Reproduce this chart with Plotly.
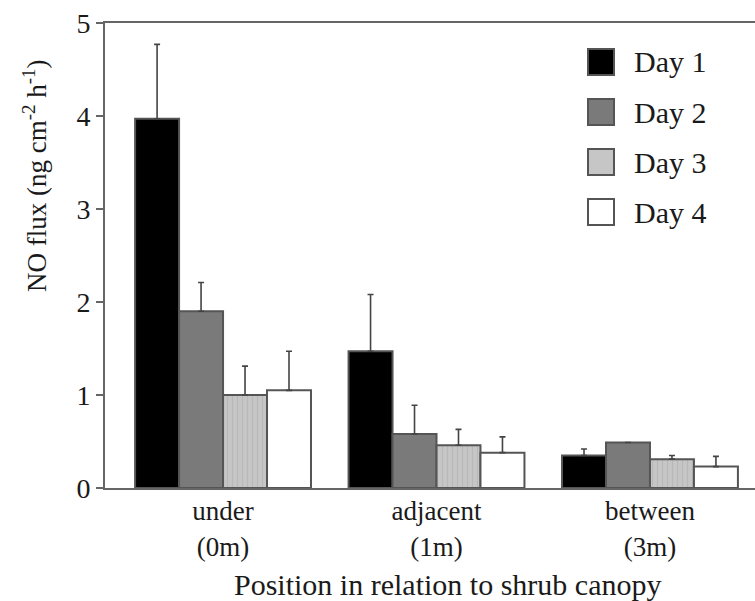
import plotly.graph_objects as go

# ---- data ----
positions = ["under", "adjacent", "between"]
distances = ["(0m)", "(1m)", "(3m)"]
series_names = ["Day 1", "Day 2", "Day 3", "Day 4"]
day1 = [3.97, 1.47, 0.35]
day2 = [1.90, 0.58, 0.49]
day3 = [1.00, 0.46, 0.31]
day4 = [1.05, 0.38, 0.23]
err1 = [0.80, 0.61, 0.07]
err2 = [0.31, 0.31, 0.0]
err3 = [0.31, 0.17, 0.04]
err4 = [0.42, 0.17, 0.11]
y_ticks = [0, 1, 2, 3, 4, 5]

values = [day1, day2, day3, day4]
errors = [err1, err2, err3, err4]
fills = ["#000000", "#7a7a7a", "#c6c6c6", "#ffffff"]
patterns = [None, None, dict(shape="|", fgcolor="#a9a9a9", bgcolor="#c6c6c6", size=5, solidity=0.25), None]

FONT = "Liberation Serif, Times New Roman, serif"
TXT = "#1a1a1a"
EDGE = "#555555"

cats = [f"{p}<br>{d}" for p, d in zip(positions, distances)]

fig = go.Figure()
for name, v, e, c, pat in zip(series_names, values, errors, fills, patterns):
    marker = dict(color=c, line=dict(color=EDGE, width=2))
    if pat is not None:
        marker["pattern"] = pat
    fig.add_trace(go.Bar(
        x=cats, y=v, name=name, marker=marker, showlegend=False,
        error_y=dict(type="data", array=e, arrayminus=[0] * len(e), symmetric=False,
                     color="#444444", thickness=1.6, width=3),
    ))

# legend drawn as layout items (paper coordinates)
L, R, T, B = 105, 755, 23, 488
W, H = R - L, B - T
def px(xp): return (xp - L) / W
def py(yp): return (B - yp) / H

for i, (name, c) in enumerate(zip(series_names, fills)):
    cy = 62 + 50 * i
    fig.add_shape(type="rect", xref="paper", yref="paper",
                  x0=px(588), x1=px(614), y0=py(cy + 13), y1=py(cy - 13),
                  fillcolor=c, line=dict(color=EDGE, width=2))
    fig.add_annotation(text=name, xref="paper", yref="paper", x=px(632), y=py(cy),
                       xanchor="left", yanchor="middle", showarrow=False,
                       font=dict(family=FONT, size=30, color=TXT))

# axis titles
fig.add_annotation(text="Position in relation to shrub canopy", xref="paper", yref="paper",
                   x=px(447), y=py(584), xanchor="center", yanchor="middle", showarrow=False,
                   font=dict(family=FONT, size=30, color=TXT))
fig.add_annotation(text="NO flux (ng cm<sup>-2</sup> h<sup>-1</sup>)", xref="paper", yref="paper",
                   x=px(35), y=py(176), xanchor="center", yanchor="middle", showarrow=False,
                   textangle=-90, font=dict(family=FONT, size=27, color=TXT))

fig.update_layout(
    width=755, height=601,
    margin=dict(l=L, r=0, t=T, b=601 - B),
    paper_bgcolor="white", plot_bgcolor="white",
    barmode="group", bargap=0.176, bargroupgap=0.0,
    font=dict(family=FONT, size=26, color=TXT),
)
fig.update_xaxes(
    type="category", range=[-0.553, 2.492],
    showline=True, linecolor="#666666", linewidth=2, mirror=True,
    ticks="", showgrid=False, zeroline=False,
    tickfont=dict(family=FONT, size=27, color=TXT), ticklabelstandoff=-2,
)
fig.update_yaxes(
    range=[0, 5], tickvals=y_ticks, ticktext=[str(t) for t in y_ticks],
    showline=True, linecolor="#666666", linewidth=2,
    ticks="outside", ticklen=7, tickwidth=1.5, tickcolor="#666666",
    showgrid=False, zeroline=False,
    tickfont=dict(family=FONT, size=28, color=TXT),
)

fig.write_html("out.html")
